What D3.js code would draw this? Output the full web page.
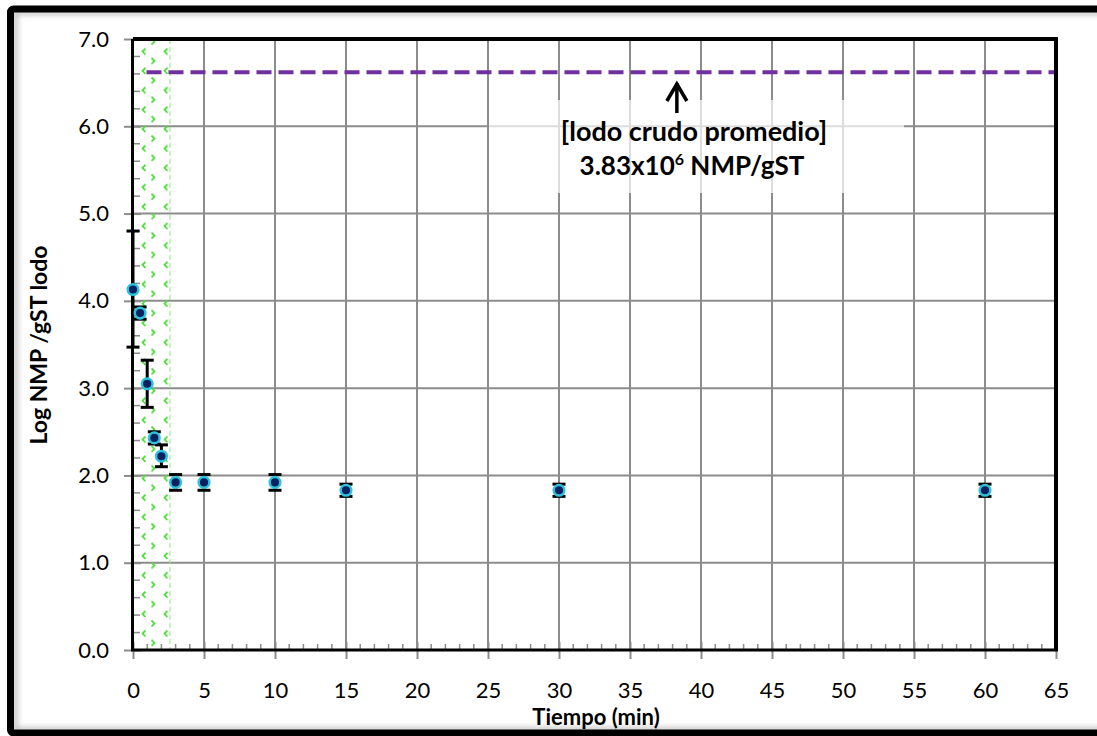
<!DOCTYPE html>
<html>
<head>
<meta charset="utf-8">
<script src="https://cdn.jsdelivr.net/npm/d3@7"></script>
<style>
  html, body { margin: 0; padding: 0; background: #fff; }
  svg { display: block; font-family: Lato, "Open Sans", sans-serif; }
</style>
</head>
<body>
<div id="chart"></div>
<script>
// Data
const tiempo = [0, 0.5, 1, 1.5, 2, 3, 5, 10, 15, 30, 60];
const logNmp = [4.13, 3.86, 3.05, 2.43, 2.22, 1.92, 1.92, 1.92, 1.83, 1.83, 1.83];
const errLow = [3.47, 3.79, 2.78, 2.36, 2.10, 1.83, 1.83, 1.83, 1.76, 1.76, 1.76];
const errHigh = [4.80, 3.93, 3.32, 2.50, 2.35, 2.01, 2.01, 2.01, 1.90, 1.90, 1.90];
const xTicks = [0, 5, 10, 15, 20, 25, 30, 35, 40, 45, 50, 55, 60, 65];
const yTicks = [0, 1, 2, 3, 4, 5, 6, 7];
const crudoPromedio = 6.62;
const bandEnd = 2.6;
const arrowX = 38.3;

const W = 1097, H = 736;
const margin = { left: 133, right: 1097 - 1056, top: 39, bottom: 736 - 650 };
const FONT = "Lato, 'Open Sans', sans-serif";

const svg = d3.select("#chart").append("svg")
  .attr("width", W).attr("height", H);

const defs = svg.append("defs");
// chevron hatch for the band
const pat = defs.append("pattern")
  .attr("id", "hatch").attr("patternUnits", "userSpaceOnUse")
  .attr("width", 60).attr("height", 19.4).attr("x", 133).attr("y", 41);
const chev = "#4fdc3c";
pat.append("path").attr("d", "M12.5,7.5 l-3,3 l3,3 M34.5,7.5 l-3,3 l3,3")
  .attr("fill", "none").attr("stroke", chev).attr("stroke-width", 1.8);
pat.append("path").attr("d", "M18.5,17 l3,3 l-3,3 M18.5,-2.4 l3,3 l-3,3")
  .attr("fill", "none").attr("stroke", chev).attr("stroke-width", 1.8);

const filt = defs.append("filter").attr("id", "shadow")
  .attr("x", "-5%").attr("y", "-5%").attr("width", "110%").attr("height", "110%");
filt.append("feGaussianBlur").attr("stdDeviation", 3);

// Outer frame with soft inner shadow
svg.append("rect").attr("x", 15).attr("y", 12).attr("width", W).attr("height", H - 18)
  .attr("fill", "none").attr("stroke", "#aaa").attr("stroke-width", 4)
  .attr("filter", "url(#shadow)");
svg.append("rect").attr("x", 10.5).attr("y", 9).attr("width", W).attr("height", H - 12)
  .attr("fill", "none").attr("stroke", "#000").attr("stroke-width", 7).attr("rx", 3);

const x = d3.scaleLinear().domain([0, 65]).range([margin.left, W - margin.right]);
const y = d3.scaleLinear().domain([0, 7]).range([H - margin.bottom, margin.top]);

// Gridlines
const grid = svg.append("g");
grid.selectAll("line.gx").data(xTicks.slice(1, -1)).join("line")
  .attr("x1", d => x(d)).attr("x2", d => x(d))
  .attr("y1", y(7)).attr("y2", y(0))
  .attr("stroke", "#8c8c8c").attr("stroke-width", 2);
grid.selectAll("line.gy").data(yTicks.slice(1, -1)).join("line")
  .attr("x1", x(0)).attr("x2", x(65))
  .attr("y1", d => y(d)).attr("y2", d => y(d))
  .attr("stroke", "#8c8c8c").attr("stroke-width", 2);

// Green hatched band
svg.append("rect").attr("x", x(0)).attr("y", y(7))
  .attr("width", x(bandEnd) - x(0)).attr("height", y(0) - y(7))
  .attr("fill", "url(#hatch)");
svg.append("line").attr("x1", x(bandEnd)).attr("x2", x(bandEnd))
  .attr("y1", y(7)).attr("y2", y(0))
  .attr("stroke", "#8fe680").attr("stroke-width", 1).attr("stroke-dasharray", "5,3");

// Semi-transparent label box
svg.append("rect").attr("x", 489).attr("y", 100).attr("width", 415).attr("height", 93)
  .attr("fill", "#fff").attr("opacity", 0.7);

// Dashed reference line
svg.append("line").attr("x1", x(0.95)).attr("x2", x(65))
  .attr("y1", y(crudoPromedio)).attr("y2", y(crudoPromedio))
  .attr("stroke", "#7030a0").attr("stroke-width", 4).attr("stroke-dasharray", "15,7");

// Arrow
const ax = x(arrowX);
svg.append("line").attr("x1", ax).attr("x2", ax)
  .attr("y1", 113).attr("y2", 83)
  .attr("stroke", "#000").attr("stroke-width", 3.5);
svg.append("path")
  .attr("d", `M${ax - 10},${101} L${ax},${84} L${ax + 10},${101}`)
  .attr("fill", "none").attr("stroke", "#000").attr("stroke-width", 3.5)
  .attr("stroke-linejoin", "miter");

const note = svg.append("g").attr("font-weight", "bold")
  .attr("text-anchor", "middle").attr("fill", "#000");
note.append("text").attr("x", 694).attr("y", 141).attr("font-size", 27).text("[lodo crudo promedio]");
const t2 = note.append("text").attr("x", 692).attr("y", 175).attr("font-size", 26);
t2.append("tspan").text("3.83x10");
t2.append("tspan").attr("font-size", 16).attr("dy", -10).text("6");
t2.append("tspan").attr("dy", 10).text(" NMP/gST");

// Axes
const xAxis = svg.append("g").attr("transform", `translate(0,${y(0)})`)
  .call(d3.axisBottom(x).tickValues(xTicks).tickSize(10).tickFormat(d3.format("d")));
xAxis.attr("font-family", FONT);
xAxis.select(".domain").remove();
xAxis.selectAll(".tick line").attr("stroke", "#8c8c8c").attr("stroke-width", 2).attr("y1", -8).attr("y2", 9);
xAxis.selectAll(".tick text").attr("font-size", 22).attr("dy", 0).attr("y", 48).attr("fill", "#000");

const yAxis = svg.append("g").attr("transform", `translate(${x(0)},0)`)
  .call(d3.axisLeft(y).tickValues(yTicks).tickSize(10).tickFormat(d3.format(".1f")));
yAxis.attr("font-family", FONT);
yAxis.select(".domain").remove();
yAxis.selectAll(".tick line").attr("stroke", "#8c8c8c").attr("stroke-width", 2).attr("x1", 8).attr("x2", -9);
yAxis.selectAll(".tick text").attr("font-size", 22).attr("x", -24).attr("fill", "#000");

// Minor ticks
svg.append("g").selectAll("line").data(d3.range(1, 65).filter(d => d % 5 !== 0)).join("line")
  .attr("x1", d => x(d)).attr("x2", d => x(d))
  .attr("y1", y(0)).attr("y2", y(0) - 6)
  .attr("stroke", "#8c8c8c").attr("stroke-width", 1.5);
svg.append("g").selectAll("line").data(d3.range(1, 35).filter(d => d % 5 !== 0).map(d => d / 5)).join("line")
  .attr("x1", x(0)).attr("x2", x(0) + 7)
  .attr("y1", d => y(d)).attr("y2", d => y(d))
  .attr("stroke", "#8c8c8c").attr("stroke-width", 1.5);

// Plot frame
svg.append("line").attr("x1", x(0)).attr("x2", x(65) + 2).attr("y1", y(7)).attr("y2", y(7))
  .attr("stroke", "#000").attr("stroke-width", 4);
svg.append("line").attr("x1", x(65)).attr("x2", x(65)).attr("y1", y(7)).attr("y2", y(0))
  .attr("stroke", "#000").attr("stroke-width", 4);
svg.append("line").attr("x1", x(0) - 2).attr("x2", x(65) + 2).attr("y1", y(0)).attr("y2", y(0))
  .attr("stroke", "#000").attr("stroke-width", 3);
svg.append("line").attr("x1", x(0) - 0.5).attr("x2", x(0) - 0.5).attr("y1", y(7)).attr("y2", y(0) + 1)
  .attr("stroke", "#000").attr("stroke-width", 3);

// Error bars
const pts = tiempo.map((t, i) => ({ t, v: logNmp[i], lo: errLow[i], hi: errHigh[i] }));
const eb = svg.append("g").attr("stroke", "#000").attr("stroke-width", 3);
eb.selectAll("line.v").data(pts).join("line")
  .attr("x1", d => x(d.t)).attr("x2", d => x(d.t))
  .attr("y1", d => y(d.lo)).attr("y2", d => y(d.hi));
eb.selectAll("line.lo").data(pts).join("line")
  .attr("x1", d => x(d.t) - 6.5).attr("x2", d => x(d.t) + 6.5)
  .attr("y1", d => y(d.lo)).attr("y2", d => y(d.lo));
eb.selectAll("line.hi").data(pts).join("line")
  .attr("x1", d => x(d.t) - 6.5).attr("x2", d => x(d.t) + 6.5)
  .attr("y1", d => y(d.hi)).attr("y2", d => y(d.hi));

// Points
svg.append("g").selectAll("circle").data(pts).join("circle")
  .attr("cx", d => x(d.t)).attr("cy", d => y(d.v)).attr("r", 5.3)
  .attr("fill", "#0b2060").attr("stroke", "#29c3dc").attr("stroke-width", 2.5);

// Axis titles
svg.append("text").attr("x", 596).attr("y", 725)
  .attr("text-anchor", "middle").attr("font-weight", "bold").attr("font-size", 22)
  .text("Tiempo (min)");
svg.append("text").attr("transform", `translate(47,${345}) rotate(-90)`)
  .attr("text-anchor", "middle").attr("font-weight", "bold").attr("font-size", 23)
  .text("Log NMP /gST lodo");
</script>
</body>
</html>
